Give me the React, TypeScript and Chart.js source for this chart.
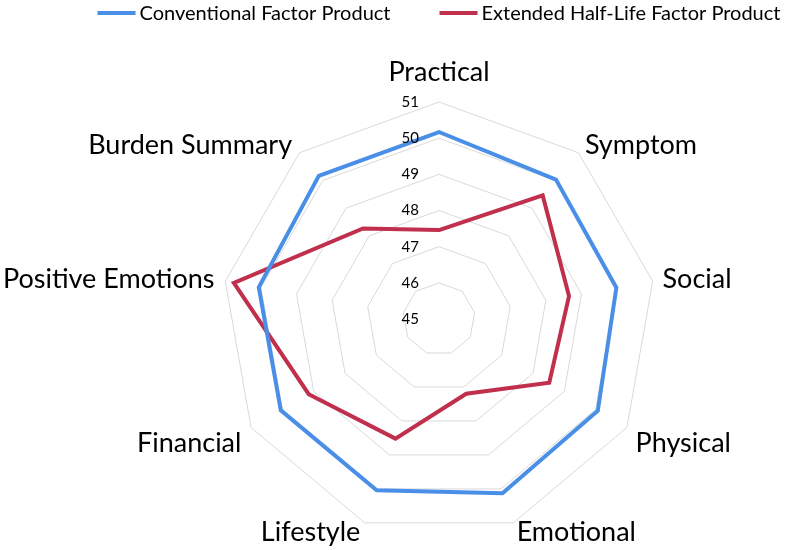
import React, { useEffect, useRef } from 'react';
import { Chart, registerables } from 'chart.js';

Chart.register(...registerables);

const categories = [
  'Practical',
  'Symptom',
  'Social',
  'Physical',
  'Emotional',
  'Lifestyle',
  'Financial',
  'Positive Emotions',
  'Burden Summary',
];
const conventionalValues = [50.17, 50.03, 49.98, 50.07, 50.13, 50.04, 50.05, 50.06, 50.17];
const extendedValues = [47.46, 49.46, 48.65, 48.52, 47.2, 48.52, 49.16, 50.76, 48.27];
const seriesNames = ['Conventional Factor Product', 'Extended Half-Life Factor Product'];
const seriesColors = ['#4a8fe7', '#c0304c'];
const axisMin = 45;
const axisMax = 51;
const axisStep = 1;

const FONT = 'Lato, "Open Sans", sans-serif';

const excelLabels = {
  id: 'excelLabels',
  afterDraw(chart: any) {
    const scale = chart.scales.r;
    const ctx = chart.ctx;
    ctx.save();

    // radial tick labels (values from the library's ticks)
    ctx.font = `15px ${FONT}`;
    ctx.fillStyle = '#000';
    ctx.textAlign = 'right';
    ctx.textBaseline = 'middle';
    scale.ticks.forEach((t: any) => {
      const d = scale.getDistanceFromCenterForValue(t.value);
      ctx.fillText(String(t.label), scale.xCenter - 20, scale.yCenter - d);
    });

    // point labels
    const ps = 27;
    ctx.font = `${ps}px ${FONT}`;
    ctx.textBaseline = 'alphabetic';
    const capHalf = (ps * 0.72) / 2;
    (chart.data.labels as string[]).forEach((lab, i) => {
      const q = scale.getPointPosition(i, scale.drawingArea + 10);
      const cos = Math.cos(q.angle);
      const sin = Math.sin(q.angle);
      let align: CanvasTextAlign = 'center';
      let x = q.x;
      let mid = q.y - 1;
      if (cos > 0.1) align = 'left';
      else if (cos < -0.1) {
        align = 'right';
        x = q.x - 1;
      }
      if (Math.abs(cos) <= 0.1 && sin < 0) mid = q.y - 21;
      else if (sin > 0.3 && sin < 0.7) mid = q.y + 9.5;
      ctx.textAlign = align;
      ctx.fillText(lab, x, mid + capHalf);
    });

    // legend
    const ls = 20;
    ctx.font = `${ls}px ${FONT}`;
    const items = chart.data.datasets.map((ds: any) => ({
      text: ds.label,
      color: ds.borderColor,
      w: ctx.measureText(ds.label).width,
    }));
    const lineLen = 38;
    const gap = 4;
    const itemGap = 49;
    const total =
      items.reduce((s: number, it: any) => s + lineLen + gap + it.w, 0) + itemGap * (items.length - 1);
    let x = scale.xCenter - total / 2;
    const y = 13;
    items.forEach((it: any) => {
      ctx.strokeStyle = it.color;
      ctx.lineWidth = 4;
      ctx.lineCap = 'butt';
      ctx.beginPath();
      ctx.moveTo(x, y);
      ctx.lineTo(x + lineLen, y);
      ctx.stroke();
      ctx.fillStyle = '#000';
      ctx.textAlign = 'left';
      ctx.textBaseline = 'alphabetic';
      ctx.fillText(it.text, x + lineLen + gap, y + (ls * 0.72) / 2);
      x += lineLen + gap + it.w + itemGap;
    });

    ctx.restore();
  },
};

export default function App() {
  const canvasRef = useRef<HTMLCanvasElement | null>(null);

  useEffect(() => {
    if (!canvasRef.current) return;
    Chart.defaults.font.family = FONT;
    const chart = new Chart(canvasRef.current, {
      type: 'radar',
      data: {
        labels: categories,
        datasets: [
          {
            label: seriesNames[0],
            data: conventionalValues,
            borderColor: seriesColors[0],
            backgroundColor: seriesColors[0],
            borderWidth: 4,
            fill: false,
            pointRadius: 0,
            pointHoverRadius: 0,
          },
          {
            label: seriesNames[1],
            data: extendedValues,
            borderColor: seriesColors[1],
            backgroundColor: seriesColors[1],
            borderWidth: 4,
            fill: false,
            pointRadius: 0,
            pointHoverRadius: 0,
          },
        ],
      },
      options: {
        responsive: false,
        animation: false,
        layout: { padding: { left: 222, right: 130, top: 102, bottom: 14 } },
        plugins: {
          legend: { display: false },
          tooltip: { enabled: false },
        },
        scales: {
          r: {
            min: axisMin,
            max: axisMax,
            beginAtZero: false,
            ticks: { stepSize: axisStep, display: false },
            grid: { color: '#d9d9d9', lineWidth: 1 },
            angleLines: { display: false },
            pointLabels: { display: false },
          },
        },
      },
      plugins: [excelLabels],
    });
    return () => chart.destroy();
  }, []);

  return (
    <div style={{ position: 'fixed', left: 0, top: 0, width: 786, height: 550, background: '#fff' }}>
      <canvas ref={canvasRef} width={786} height={550} style={{ width: 786, height: 550 }} />
    </div>
  );
}
